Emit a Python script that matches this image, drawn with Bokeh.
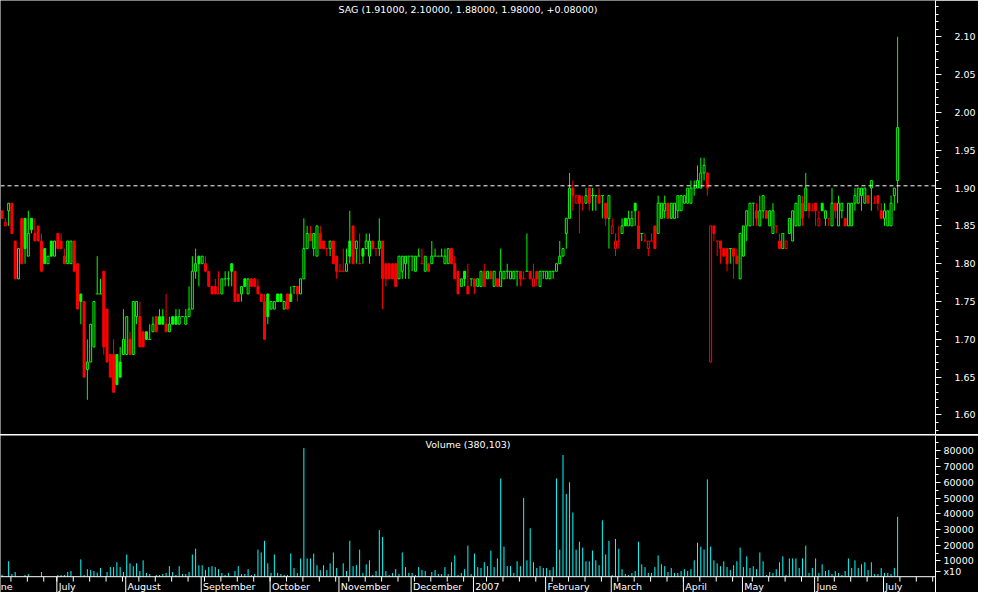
import datetime
from bokeh.plotting import figure
from bokeh.layouts import column
from bokeh.models import Range1d, FixedTicker, PrintfTickFormatter, Span, ColumnDataSource
from bokeh.embed import file_html
from bokeh.resources import INLINE
from bokeh.core.properties import value

symbol = "SAG"

open_ = [
    1.87, 1.85, 1.87, 1.88, 1.83, 1.78, 1.86, 1.86, 1.81, 1.86,
    1.84, 1.85, 1.83, 1.82, 1.80, 1.83, 1.81, 1.84, 1.83, 1.81,
    1.80, 1.80, 1.83, 1.80, 1.76, 1.75, 1.66, 1.67, 1.69, 1.76,
    1.76, 1.79, 1.74, 1.68, 1.68, 1.68, 1.67, 1.68, 1.68, 1.70,
    1.68, 1.73, 1.73, 1.71, 1.71, 1.70, 1.71, 1.73, 1.73, 1.73,
    1.72, 1.71, 1.73, 1.73, 1.72, 1.73, 1.72, 1.73, 1.74, 1.79,
    1.81, 1.80, 1.80, 1.79, 1.77, 1.77, 1.76, 1.76, 1.78, 1.78,
    1.80, 1.79, 1.76, 1.76, 1.78, 1.76, 1.78, 1.78, 1.77, 1.76,
    1.75, 1.76, 1.74, 1.74, 1.76, 1.76, 1.74, 1.76, 1.76, 1.77,
    1.77, 1.76, 1.78, 1.82, 1.84, 1.82, 1.81, 1.84, 1.83, 1.82,
    1.82, 1.83, 1.81, 1.79, 1.79, 1.79, 1.83, 1.85, 1.82, 1.80,
    1.82, 1.82, 1.81, 1.83, 1.82, 1.82, 1.83, 1.80, 1.80, 1.80,
    1.80, 1.78, 1.79, 1.80, 1.81, 1.81, 1.79, 1.81, 1.80, 1.79,
    1.80, 1.80, 1.81, 1.81, 1.81, 1.80, 1.80, 1.82, 1.80, 1.79,
    1.77, 1.79, 1.77, 1.78, 1.78, 1.77, 1.77, 1.79, 1.78, 1.79,
    1.77, 1.78, 1.77, 1.78, 1.79, 1.78, 1.78, 1.79, 1.79, 1.78,
    1.79, 1.79, 1.77, 1.79, 1.77, 1.79, 1.78, 1.78, 1.79, 1.79,
    1.80, 1.81, 1.84, 1.86, 1.90, 1.88, 1.89, 1.88, 1.88, 1.90,
    1.89, 1.89, 1.89, 1.89, 1.88, 1.86, 1.84, 1.82, 1.83, 1.84,
    1.86, 1.85, 1.85, 1.88, 1.85, 1.84, 1.83, 1.82, 1.83, 1.85,
    1.84, 1.86, 1.87, 1.88, 1.86, 1.86, 1.87, 1.87, 1.88, 1.88,
    1.88, 1.90, 1.90, 1.90, 1.92, 1.92, 1.67, 1.85, 1.83, 1.83,
    1.82, 1.82, 1.82, 1.82, 1.81, 1.78, 1.81, 1.85, 1.85, 1.88,
    1.87, 1.85, 1.87, 1.87, 1.85, 1.84, 1.85, 1.83, 1.82, 1.82,
    1.84, 1.83, 1.85, 1.85, 1.88, 1.87, 1.88, 1.87, 1.88, 1.85,
    1.88, 1.86, 1.86, 1.85, 1.88, 1.85, 1.87, 1.86, 1.85, 1.85,
    1.88, 1.88, 1.89, 1.88, 1.89, 1.90, 1.88, 1.89, 1.87, 1.86,
    1.85, 1.85, 1.89, 1.91,
]
high = [
    1.87, 1.86, 1.88, 1.88, 1.83, 1.82, 1.86, 1.86, 1.87, 1.86,
    1.86, 1.85, 1.84, 1.82, 1.81, 1.83, 1.83, 1.84, 1.84, 1.82,
    1.83, 1.83, 1.83, 1.80, 1.76, 1.75, 1.70, 1.72, 1.75, 1.81,
    1.78, 1.79, 1.74, 1.68, 1.70, 1.68, 1.69, 1.74, 1.73, 1.71,
    1.75, 1.75, 1.75, 1.71, 1.71, 1.72, 1.73, 1.73, 1.74, 1.74,
    1.76, 1.73, 1.73, 1.74, 1.74, 1.73, 1.74, 1.77, 1.81, 1.82,
    1.81, 1.81, 1.81, 1.79, 1.77, 1.78, 1.79, 1.78, 1.79, 1.79,
    1.80, 1.79, 1.76, 1.77, 1.78, 1.78, 1.78, 1.78, 1.78, 1.76,
    1.76, 1.76, 1.75, 1.75, 1.76, 1.76, 1.75, 1.76, 1.77, 1.77,
    1.77, 1.78, 1.86, 1.85, 1.85, 1.84, 1.85, 1.85, 1.83, 1.82,
    1.83, 1.83, 1.81, 1.80, 1.82, 1.82, 1.87, 1.85, 1.83, 1.84,
    1.82, 1.84, 1.84, 1.83, 1.82, 1.86, 1.83, 1.80, 1.80, 1.80,
    1.80, 1.81, 1.81, 1.81, 1.81, 1.81, 1.81, 1.82, 1.82, 1.81,
    1.80, 1.83, 1.82, 1.81, 1.82, 1.82, 1.82, 1.82, 1.81, 1.79,
    1.78, 1.79, 1.80, 1.78, 1.78, 1.78, 1.79, 1.80, 1.79, 1.79,
    1.79, 1.78, 1.82, 1.79, 1.80, 1.79, 1.79, 1.79, 1.79, 1.79,
    1.84, 1.79, 1.80, 1.79, 1.79, 1.79, 1.79, 1.79, 1.79, 1.80,
    1.83, 1.82, 1.86, 1.92, 1.91, 1.89, 1.89, 1.89, 1.90, 1.90,
    1.90, 1.89, 1.90, 1.89, 1.88, 1.89, 1.86, 1.84, 1.85, 1.86,
    1.86, 1.87, 1.87, 1.88, 1.87, 1.84, 1.84, 1.83, 1.84, 1.85,
    1.89, 1.88, 1.89, 1.88, 1.88, 1.88, 1.89, 1.89, 1.89, 1.90,
    1.91, 1.91, 1.93, 1.94, 1.94, 1.92, 1.85, 1.85, 1.83, 1.83,
    1.82, 1.82, 1.82, 1.82, 1.82, 1.84, 1.85, 1.87, 1.88, 1.88,
    1.88, 1.89, 1.89, 1.87, 1.87, 1.88, 1.85, 1.84, 1.84, 1.83,
    1.86, 1.87, 1.88, 1.89, 1.89, 1.92, 1.88, 1.88, 1.88, 1.87,
    1.88, 1.87, 1.86, 1.90, 1.88, 1.89, 1.88, 1.86, 1.88, 1.88,
    1.90, 1.90, 1.90, 1.90, 1.89, 1.91, 1.89, 1.89, 1.88, 1.88,
    1.87, 1.89, 1.90, 2.10,
]
low = [
    1.86, 1.85, 1.85, 1.84, 1.78, 1.78, 1.80, 1.80, 1.81, 1.84,
    1.83, 1.83, 1.79, 1.80, 1.80, 1.81, 1.81, 1.82, 1.82, 1.80,
    1.80, 1.80, 1.79, 1.74, 1.72, 1.65, 1.62, 1.67, 1.69, 1.76,
    1.76, 1.68, 1.67, 1.65, 1.63, 1.64, 1.65, 1.68, 1.68, 1.68,
    1.68, 1.72, 1.69, 1.69, 1.70, 1.70, 1.71, 1.71, 1.72, 1.72,
    1.71, 1.71, 1.72, 1.72, 1.72, 1.73, 1.72, 1.73, 1.74, 1.78,
    1.77, 1.80, 1.79, 1.77, 1.76, 1.76, 1.76, 1.76, 1.77, 1.77,
    1.77, 1.75, 1.75, 1.75, 1.77, 1.76, 1.77, 1.77, 1.76, 1.75,
    1.70, 1.72, 1.74, 1.74, 1.75, 1.75, 1.74, 1.74, 1.75, 1.76,
    1.75, 1.76, 1.78, 1.82, 1.83, 1.81, 1.81, 1.82, 1.82, 1.81,
    1.81, 1.80, 1.78, 1.79, 1.79, 1.79, 1.80, 1.80, 1.80, 1.80,
    1.80, 1.82, 1.80, 1.82, 1.81, 1.81, 1.74, 1.77, 1.78, 1.78,
    1.77, 1.78, 1.78, 1.78, 1.78, 1.79, 1.79, 1.81, 1.80, 1.79,
    1.79, 1.80, 1.81, 1.81, 1.81, 1.80, 1.80, 1.80, 1.78, 1.76,
    1.77, 1.77, 1.76, 1.77, 1.76, 1.77, 1.77, 1.77, 1.78, 1.78,
    1.77, 1.77, 1.77, 1.78, 1.78, 1.78, 1.78, 1.77, 1.77, 1.78,
    1.79, 1.78, 1.77, 1.77, 1.77, 1.78, 1.78, 1.78, 1.78, 1.79,
    1.80, 1.81, 1.82, 1.86, 1.87, 1.88, 1.84, 1.87, 1.88, 1.87,
    1.87, 1.87, 1.88, 1.86, 1.85, 1.82, 1.84, 1.81, 1.82, 1.84,
    1.85, 1.85, 1.85, 1.85, 1.82, 1.83, 1.83, 1.81, 1.83, 1.82,
    1.84, 1.86, 1.86, 1.86, 1.86, 1.86, 1.86, 1.87, 1.88, 1.88,
    1.88, 1.89, 1.90, 1.90, 1.91, 1.89, 1.67, 1.83, 1.81, 1.80,
    1.81, 1.79, 1.80, 1.78, 1.80, 1.78, 1.81, 1.83, 1.85, 1.85,
    1.85, 1.85, 1.86, 1.86, 1.85, 1.84, 1.84, 1.82, 1.82, 1.82,
    1.84, 1.83, 1.85, 1.85, 1.85, 1.87, 1.86, 1.87, 1.85, 1.85,
    1.87, 1.85, 1.85, 1.85, 1.86, 1.85, 1.86, 1.85, 1.85, 1.85,
    1.87, 1.88, 1.87, 1.88, 1.88, 1.87, 1.88, 1.87, 1.86, 1.85,
    1.85, 1.85, 1.87, 1.88,
]
close = [
    1.86, 1.855, 1.88, 1.84, 1.78, 1.82, 1.80, 1.82, 1.84, 1.845,
    1.83, 1.83, 1.79, 1.80, 1.81, 1.81, 1.83, 1.82, 1.82, 1.80,
    1.83, 1.83, 1.79, 1.74, 1.75, 1.65, 1.67, 1.72, 1.75, 1.76,
    1.76, 1.69, 1.67, 1.65, 1.63, 1.64, 1.65, 1.70, 1.73, 1.68,
    1.75, 1.75, 1.69, 1.69, 1.70, 1.70, 1.72, 1.71, 1.72, 1.72,
    1.71, 1.72, 1.72, 1.72, 1.73, 1.73, 1.73, 1.74, 1.79, 1.80,
    1.80, 1.81, 1.79, 1.77, 1.76, 1.76, 1.76, 1.78, 1.78, 1.78,
    1.79, 1.75, 1.75, 1.77, 1.77, 1.78, 1.77, 1.77, 1.76, 1.75,
    1.70, 1.73, 1.75, 1.75, 1.75, 1.75, 1.75, 1.74, 1.75, 1.77,
    1.76, 1.78, 1.82, 1.84, 1.83, 1.84, 1.85, 1.82, 1.82, 1.82,
    1.83, 1.80, 1.79, 1.79, 1.79, 1.80, 1.81, 1.80, 1.83, 1.80,
    1.81, 1.83, 1.83, 1.82, 1.82, 1.83, 1.78, 1.78, 1.78, 1.78,
    1.77, 1.81, 1.81, 1.81, 1.81, 1.81, 1.81, 1.81, 1.80, 1.81,
    1.79, 1.81, 1.81, 1.81, 1.81, 1.81, 1.82, 1.80, 1.78, 1.76,
    1.78, 1.78, 1.76, 1.78, 1.77, 1.78, 1.79, 1.77, 1.79, 1.78,
    1.79, 1.77, 1.79, 1.79, 1.79, 1.79, 1.79, 1.79, 1.78, 1.78,
    1.79, 1.78, 1.78, 1.78, 1.79, 1.79, 1.79, 1.79, 1.79, 1.80,
    1.81, 1.82, 1.86, 1.90, 1.89, 1.89, 1.88, 1.88, 1.89, 1.88,
    1.89, 1.89, 1.88, 1.89, 1.86, 1.89, 1.85, 1.83, 1.83, 1.85,
    1.85, 1.86, 1.86, 1.87, 1.82, 1.84, 1.83, 1.83, 1.83, 1.82,
    1.88, 1.88, 1.88, 1.86, 1.88, 1.88, 1.89, 1.89, 1.89, 1.90,
    1.90, 1.90, 1.91, 1.92, 1.93, 1.90, 1.85, 1.84, 1.83, 1.82,
    1.81, 1.80, 1.82, 1.81, 1.80, 1.84, 1.85, 1.87, 1.88, 1.88,
    1.86, 1.87, 1.89, 1.86, 1.87, 1.87, 1.85, 1.82, 1.84, 1.83,
    1.86, 1.87, 1.88, 1.89, 1.86, 1.90, 1.87, 1.87, 1.87, 1.86,
    1.87, 1.87, 1.86, 1.88, 1.87, 1.88, 1.88, 1.85, 1.88, 1.88,
    1.89, 1.90, 1.90, 1.90, 1.88, 1.91, 1.88, 1.88, 1.86, 1.87,
    1.87, 1.88, 1.90, 1.98,
]
# volume in units of 10 shares (axis shows "x10")
volume = [
    1300, 0, 9800, 1700, 3000, 0, 0, 1100, 1700, 0,
    0, 0, 3000, 0, 0, 0, 0, 1100, 1100, 1100,
    3000, 3600, 0, 0, 11000, 1100, 4800, 4200, 3600, 2600,
    5500, 0, 3000, 6100, 6100, 9200, 6100, 3000, 14100, 8500,
    6700, 8500, 3600, 10400, 2400, 1700, 0, 1100, 1100, 1700,
    2400, 6700, 3000, 1100, 6700, 1700, 1700, 3000, 14100, 17800,
    7300, 7300, 4200, 6100, 6700, 6100, 4800, 2400, 1100, 2400,
    0, 3600, 6700, 1700, 1700, 4800, 1100, 1700, 17200, 15400,
    22800, 8500, 2400, 14100, 2400, 1700, 1100, 1100, 14700, 5500,
    2400, 11600, 81700, 11600, 11600, 14700, 7300, 4200, 7300, 4200,
    8500, 15400, 5500, 0, 8500, 3600, 22800, 6700, 7300, 17200,
    2400, 7900, 10400, 1100, 3600, 29600, 25300, 3600, 1100, 2400,
    4800, 1700, 15400, 6100, 2400, 2400, 1100, 6100, 4200, 3600,
    0, 3000, 4200, 1700, 1700, 6100, 1700, 9200, 13500, 1100,
    2400, 4800, 19700, 1700, 14700, 6100, 5500, 9200, 6700, 16600,
    6100, 11600, 62400, 19100, 6700, 6700, 2400, 9800, 6700, 50000,
    10400, 30800, 9200, 5500, 6700, 5500, 5500, 4200, 6100, 62400,
    17200, 77300, 52600, 60000, 40800, 17200, 22200, 18500, 9800, 9800,
    16600, 10400, 7300, 35800, 14100, 22800, 1100, 24000, 17800, 4800,
    1700, 1100, 2400, 3600, 22200, 7900, 6100, 2400, 2400, 6100,
    13500, 7900, 6700, 3000, 5500, 2400, 2400, 3600, 4800, 3600,
    4800, 10400, 21600, 19100, 17200, 61800, 19100, 10400, 8500, 6700,
    9800, 6100, 4200, 7300, 9800, 18500, 6100, 12900, 5500, 6700,
    4800, 15400, 9800, 1100, 3000, 2400, 4800, 9200, 12900, 1100,
    11600, 11600, 11600, 5500, 11600, 19700, 2400, 5500, 11600, 2400,
    7900, 3600, 4200, 1700, 3600, 2400, 1100, 3600, 11600, 5500,
    10400, 5500, 7900, 9200, 4200, 9200, 1700, 1700, 5500, 2400,
    2400, 1700, 5500, 38010.3,
]

# the first month name is cut by the left edge in the original: only "ne" shows
month_labels = ["ne", "July", "August", "September", "October", "November",
                "December", "2007", "February", "March", "April", "May", "June", "July"]
month_first_day = ["2006-06-01", "2006-07-03", "2006-08-01", "2006-09-01", "2006-10-02",
                   "2006-11-01", "2006-12-01", "2007-01-02", "2007-02-01", "2007-03-01",
                   "2007-04-02", "2007-05-02", "2007-06-01", "2007-07-02"]
month_first_bar = [-4, 17, 38, 61, 82, 103, 125, 144, 166, 186, 208, 226, 248, 269]
price_ticks = [1.60, 1.65, 1.70, 1.75, 1.80, 1.85, 1.90, 1.95, 2.00, 2.05, 2.10]
volume_ticks = [10000, 20000, 30000, 40000, 50000, 60000, 70000, 80000]
volume_unit_label = "x10"
volume_unit_pos = 3300
ref_line = 1.903

# ---------------- styling ----------------
GREEN, RED, CYAN, WHITE, BLACK = "#00ff00", "#ff0000", "#00ffff", "#ffffff", "#000000"
FONT = "DejaVu Sans"
FS = "9.5px"
W = 978
RIGHT = 43
H1, H2 = 434, 157
X_START, X_END = -0.48, 284.55
TICK_SHIFT = -0.3

n = len(close)
xs = list(range(n))

up = []
for i in range(n):
    if i == 0:
        u = close[i] >= open_[i]
    elif close[i] > close[i - 1]:
        u = True
    elif close[i] < close[i - 1]:
        u = False
    else:
        u = up[-1]
    up.append(u)
colors = [GREEN if u else RED for u in up]
fills = [colors[i] if close[i] < open_[i] else BLACK for i in range(n)]

body = dict(x=[], top=[], bottom=[], color=[], fill=[])
doji = dict(x0=[], x1=[], y=[], color=[])
for i in range(n):
    if abs(close[i] - open_[i]) > 1e-9:
        body["x"].append(i)
        body["top"].append(max(open_[i], close[i]))
        body["bottom"].append(min(open_[i], close[i]))
        body["color"].append(colors[i])
        body["fill"].append(fills[i])
    else:
        doji["x0"].append(i - 0.45)
        doji["x1"].append(i + 0.45)
        doji["y"].append(close[i])
        doji["color"].append(colors[i])

xr = Range1d(X_START, X_END)

def base_fig(height, yr):
    p = figure(width=W, height=height, x_range=xr, y_range=yr,
               output_backend="svg", toolbar_location=None,
               x_axis_location=None, y_axis_location="right",
               min_border_left=0, min_border_right=RIGHT,
               min_border_top=0, min_border_bottom=0,
               background_fill_color=BLACK, border_fill_color=BLACK,
               outline_line_color=None)
    p.grid.visible = False
    ax = p.yaxis[0]
    ax.axis_line_color = WHITE
    ax.major_tick_line_color = WHITE
    ax.minor_tick_line_color = WHITE
    ax.major_tick_in = 0
    ax.minor_tick_in = 0
    ax.major_label_text_color = WHITE
    ax.major_label_text_font = FONT
    ax.major_label_text_font_size = FS
    return p

# ---------------- price panel ----------------
p1 = base_fig(H1, Range1d(1.5742, 2.148))
a1 = p1.yaxis[0]
a1.ticker = FixedTicker(ticks=price_ticks,
                        minor_ticks=[round(1.57 + 0.01 * k, 2) for k in range(60)])
a1.formatter = PrintfTickFormatter(format="%.2f")
a1.major_tick_out = 6
a1.minor_tick_out = 3
a1.major_label_standoff = 13

src = ColumnDataSource(dict(x=xs, h=high, l=low, color=colors))
p1.segment(x0="x", y0="l", x1="x", y1="h", line_color="color", line_width=1, source=src)
p1.vbar(x="x", width=0.6, top="top", bottom="bottom", fill_color="fill",
        line_color="color", line_width=1, source=ColumnDataSource(body))
p1.segment(x0="x0", y0="y", x1="x1", y1="y", line_color="color", line_width=1,
           source=ColumnDataSource(doji))
p1.add_layout(Span(location=ref_line, dimension="width", line_color=WHITE,
                   line_width=1, line_dash="4 3"))

title = "%s (%.5f, %.5f, %.5f, %.5f, %+.5f)" % (symbol, open_[-1], high[-1], low[-1],
                                               close[-1], close[-1] - close[-2])
p1.text(x=[(X_START + X_END) / 2], y=[2.1358], text=[title], text_color=WHITE,
        text_align="center", text_baseline="middle",
        text_font=value(FONT), text_font_size=value(FS))

# ---------------- volume panel ----------------
p2 = base_fig(H2, Range1d(-10037, 89715))
a2 = p2.yaxis[0]
a2.ticker = FixedTicker(ticks=volume_ticks + [volume_unit_pos],
                        minor_ticks=[5000 + 10000 * k for k in range(1, 9)])
a2.formatter = PrintfTickFormatter(format="%d")
a2.major_label_overrides = {volume_unit_pos: volume_unit_label}
a2.major_tick_out = 5
a2.minor_tick_out = 3
a2.major_label_standoff = 3

p2.segment(x0=xs, y0=[0] * n, x1=xs, y1=volume, line_color=CYAN, line_width=1)
p2.add_layout(Span(location=0, dimension="width", line_color=WHITE, line_width=1))

vol_title = "Volume (%s)" % format(int(round(volume[-1] * 10)), ",")
p2.text(x=[(X_START + X_END) / 2], y=[83950], text=[vol_title], text_color=WHITE,
        text_align="center", text_baseline="middle",
        text_font=value(FONT), text_font_size=value(FS))

# time axis (trading-day index) drawn on the volume panel
week_ticks = []
for m, (d, s) in enumerate(zip(month_first_day, month_first_bar)):
    wd = datetime.date.fromisoformat(d).weekday()
    t = s + (5 - wd) % 5
    end = month_first_bar[m + 1] if m + 1 < len(month_first_bar) else X_END + 1
    while t < end:
        week_ticks.append(t)
        t += 5
wx = [t + TICK_SHIFT for t in week_ticks]
p2.segment(x0=wx, y0=[0] * len(wx), x1=wx, y1=[-3100] * len(wx), line_color=WHITE, line_width=1)
mx = [m + TICK_SHIFT for m in month_first_bar]
p2.segment(x0=mx, y0=[0] * len(mx), x1=mx, y1=[-12000] * len(mx), line_color=WHITE, line_width=1)
lx = [max(v + 0.55, X_START + 0.05) for v in mx]
p2.text(x=lx, y=[-6300] * len(mx), text=month_labels, text_color=WHITE,
        text_align="left", text_baseline="middle",
        text_font=value(FONT), text_font_size=value(FS))

layout = column(p1, p2, spacing=1, styles={"background-color": WHITE})

open("out.html", "w").write(file_html(layout, INLINE))
